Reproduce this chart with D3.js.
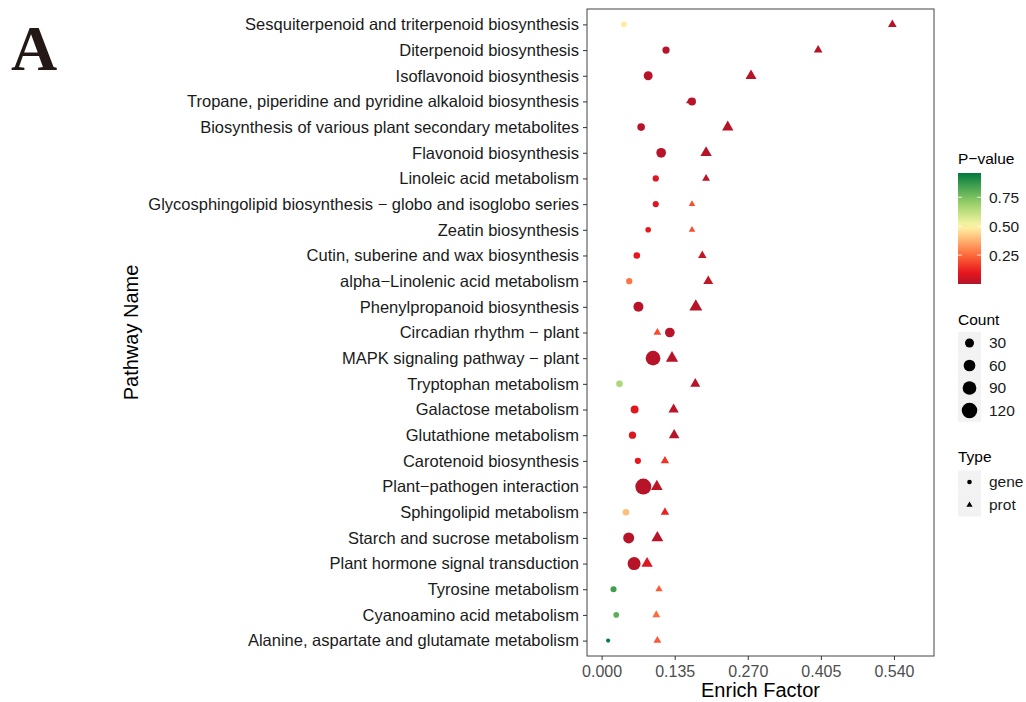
<!DOCTYPE html>
<html>
<head>
<meta charset="utf-8">
<script src="https://cdn.jsdelivr.net/npm/d3@7"></script>
<style>
  body { margin: 0; background: #fff; }
  text { font-family: "Liberation Sans", Arial, sans-serif; }
</style>
</head>
<body>
<div id="chart"></div>
<script>
// Pathways, top to bottom
const pathways = [
  "Sesquiterpenoid and triterpenoid biosynthesis",
  "Diterpenoid biosynthesis",
  "Isoflavonoid biosynthesis",
  "Tropane, piperidine and pyridine alkaloid biosynthesis",
  "Biosynthesis of various plant secondary metabolites",
  "Flavonoid biosynthesis",
  "Linoleic acid metabolism",
  "Glycosphingolipid biosynthesis \u2212 globo and isoglobo series",
  "Zeatin biosynthesis",
  "Cutin, suberine and wax biosynthesis",
  "alpha\u2212Linolenic acid metabolism",
  "Phenylpropanoid biosynthesis",
  "Circadian rhythm \u2212 plant",
  "MAPK signaling pathway \u2212 plant",
  "Tryptophan metabolism",
  "Galactose metabolism",
  "Glutathione metabolism",
  "Carotenoid biosynthesis",
  "Plant\u2212pathogen interaction",
  "Sphingolipid metabolism",
  "Starch and sucrose metabolism",
  "Plant hormone signal transduction",
  "Tyrosine metabolism",
  "Cyanoamino acid metabolism",
  "Alanine, aspartate and glutamate metabolism"
];

// gene series
const geneFactor = [0.041, 0.119, 0.086, 0.167, 0.073, 0.110, 0.100, 0.100, 0.086, 0.065, 0.051, 0.068, 0.126,
  0.095, 0.033, 0.061, 0.057, 0.067, 0.077, 0.045, 0.050, 0.060, 0.022, 0.027, 0.012];
const geneCount = [7, 16, 30, 21, 19, 37, 10, 9, 7, 12, 10, 40, 37, 105, 12, 21, 16, 10, 129, 12, 51, 78, 9, 7, 2];
const geneP = [0.48, 0.01, 0.01, 0.01, 0.01, 0.01, 0.08, 0.08, 0.1, 0.1, 0.27, 0.01, 0.01, 0.01, 0.66, 0.09,
  0.08, 0.1, 0.01, 0.4, 0.01, 0.01, 0.85, 0.8, 0.95];

// prot series
const protFactor = [0.537, 0.400, 0.276, 0.162, 0.233, 0.193, 0.193, 0.167, 0.167, 0.186, 0.197, 0.174, 0.103,
  0.130, 0.173, 0.133, 0.134, 0.117, 0.102, 0.117, 0.103, 0.084, 0.106, 0.101, 0.103];
const protCount = [11, 11, 23, 4, 25, 25, 8, 4, 4, 10, 17, 36, 8, 31, 17, 19, 21, 10, 27, 10, 29, 25, 6, 8, 8];
const protP = [0.01, 0.01, 0.01, 0.01, 0.01, 0.01, 0.02, 0.2, 0.2, 0.03, 0.03, 0.01, 0.2, 0.01, 0.01, 0.02,
  0.01, 0.15, 0.02, 0.12, 0.01, 0.08, 0.22, 0.25, 0.22];

const xTicks = [0, 0.135, 0.27, 0.405, 0.54];
const pTicks = [0.25, 0.5, 0.75];
const countBreaks = [30, 60, 90, 120];
const types = ["gene", "prot"];

const W = 1026, H = 702;
const margin = { top: 9, left: 587, right: 92, bottom: 46 };
const width = W - margin.left - margin.right;
const height = H - margin.top - margin.bottom;

const svg = d3.select("#chart").append("svg")
  .attr("width", W)
  .attr("height", H);

// Panel label
svg.append("text")
  .attr("x", 11)
  .attr("y", 70)
  .style("font-family", "'Liberation Serif', 'DejaVu Serif', serif")
  .style("font-weight", "bold")
  .style("font-size", "64px")
  .attr("fill", "#231815")
  .text("A");

const g = svg.append("g")
  .attr("transform", `translate(${margin.left},${margin.top})`);

// Scales
const x = d3.scaleLinear()
  .domain([-0.027, 0.614])
  .range([0, width]);

const y = d3.scalePoint()
  .domain(pathways)
  .range([0, height])
  .padding(0.6);

const size = d3.scaleSqrt()
  .domain([1, 160])
  .range([1.84, 8.75]);

const color = d3.scaleLinear()
  .domain([0, 0.1, 0.25, 0.5, 0.7, 0.96])
  .range(["#B2142A", "#E8161D", "#FF6A3A", "#FFF7A8", "#97D068", "#007A3D"]);

// Points
const gene = pathways.map((p, i) => ({ path: p, f: geneFactor[i], c: geneCount[i], p: geneP[i] }));
const prot = pathways.map((p, i) => ({ path: p, f: protFactor[i], c: protCount[i], p: protP[i] }));

g.selectAll(".gene")
  .data(gene)
  .enter()
  .append("circle")
  .attr("class", "gene")
  .attr("cx", d => x(d.f))
  .attr("cy", d => y(d.path))
  .attr("r", d => size(d.c))
  .attr("fill", d => color(d.p));

g.selectAll(".prot")
  .data(prot)
  .enter()
  .append("path")
  .attr("class", "prot")
  .attr("transform", d => `translate(${x(d.f)},${y(d.path)})`)
  .attr("d", d => d3.symbol(d3.symbolTriangle, Math.PI * size(d.c) ** 2)())
  .attr("fill", d => color(d.p));

// Panel border
g.append("rect")
  .attr("width", width)
  .attr("height", height)
  .attr("fill", "none")
  .attr("stroke", "#444")
  .attr("stroke-width", 1);

// Axes
const xAxis = g.append("g")
  .attr("transform", `translate(0,${height})`)
  .call(d3.axisBottom(x).tickValues(xTicks).tickFormat(d3.format(".3f")).tickSize(4).tickPadding(6));
xAxis.select(".domain").remove();
xAxis.selectAll("line").attr("stroke", "#333");
xAxis.selectAll("text")
  .attr("fill", "#4D4D4D")
  .style("font-size", "16px");

const yAxis = g.append("g")
  .call(d3.axisLeft(y).tickSize(4).tickPadding(4));
yAxis.select(".domain").remove();
yAxis.selectAll("line").attr("stroke", "#333");
yAxis.selectAll("text")
  .attr("fill", "#1a1a1a")
  .style("font-size", "16.5px");

// Axis titles
svg.append("text")
  .attr("x", margin.left + width / 2)
  .attr("y", 697)
  .attr("text-anchor", "middle")
  .style("font-size", "20px")
  .text("Enrich Factor");

svg.append("text")
  .attr("transform", `translate(138,${margin.top + height / 2}) rotate(-90)`)
  .attr("text-anchor", "middle")
  .style("font-size", "20px")
  .text("Pathway Name");

// Legend: P-value colorbar
const lx = 958;
const fs = "15.5px";
const leg = svg.append("g");

leg.append("text")
  .attr("x", lx)
  .attr("y", 164)
  .style("font-size", fs)
  .text("P\u2212value");

const barTop = 173, barBot = 284, barW = 23;
const pScale = d3.scaleLinear().domain([0, 0.96]).range([barBot, barTop]);

const defs = svg.append("defs");
const grad = defs.append("linearGradient")
  .attr("id", "pgrad")
  .attr("x1", 0).attr("y1", 1).attr("x2", 0).attr("y2", 0);
d3.range(0, 1.0001, 0.05).forEach(t => {
  grad.append("stop")
    .attr("offset", t)
    .attr("stop-color", color(t * 0.96));
});

leg.append("rect")
  .attr("x", lx)
  .attr("y", barTop)
  .attr("width", barW)
  .attr("height", barBot - barTop)
  .attr("fill", "url(#pgrad)");

pTicks.forEach(t => {
  leg.append("line")
    .attr("x1", lx).attr("x2", lx + 4)
    .attr("y1", pScale(t)).attr("y2", pScale(t))
    .attr("stroke", "#fff").attr("stroke-width", 0.8);
  leg.append("line")
    .attr("x1", lx + barW - 4).attr("x2", lx + barW)
    .attr("y1", pScale(t)).attr("y2", pScale(t))
    .attr("stroke", "#fff").attr("stroke-width", 0.8);
  leg.append("text")
    .attr("x", lx + barW + 8)
    .attr("y", pScale(t))
    .attr("dy", "0.35em")
    .style("font-size", fs)
    .attr("fill", "#1a1a1a")
    .text(t.toFixed(2));
});

// Legend: Count
leg.append("text")
  .attr("x", lx)
  .attr("y", 325)
  .style("font-size", fs)
  .text("Count");

const keyH = 22.5;
countBreaks.forEach((c, i) => {
  const cy = 343 + i * keyH;
  leg.append("rect")
    .attr("x", lx)
    .attr("y", cy - keyH / 2)
    .attr("width", barW)
    .attr("height", keyH)
    .attr("fill", "#F2F2F2");
  leg.append("circle")
    .attr("cx", lx + barW / 2)
    .attr("cy", cy)
    .attr("r", size(c))
    .attr("fill", "#000");
  leg.append("text")
    .attr("x", lx + barW + 8)
    .attr("y", cy)
    .attr("dy", "0.35em")
    .style("font-size", fs)
    .attr("fill", "#1a1a1a")
    .text(c);
});

// Legend: Type
leg.append("text")
  .attr("x", lx)
  .attr("y", 462)
  .style("font-size", fs)
  .text("Type");

types.forEach((t, i) => {
  const cy = 482 + i * 23;
  leg.append("rect")
    .attr("x", lx)
    .attr("y", cy - 11.5)
    .attr("width", barW)
    .attr("height", 23)
    .attr("fill", "#F2F2F2");
  if (t === "gene") {
    leg.append("circle")
      .attr("cx", lx + barW / 2)
      .attr("cy", cy)
      .attr("r", 2.3)
      .attr("fill", "#000");
  } else {
    leg.append("path")
      .attr("transform", `translate(${lx + barW / 2},${cy})`)
      .attr("d", d3.symbol(d3.symbolTriangle, Math.PI * 2.3 * 2.3)())
      .attr("fill", "#000");
  }
  leg.append("text")
    .attr("x", lx + barW + 8)
    .attr("y", cy)
    .attr("dy", "0.35em")
    .style("font-size", fs)
    .attr("fill", "#1a1a1a")
    .text(t);
});
</script>
</body>
</html>
